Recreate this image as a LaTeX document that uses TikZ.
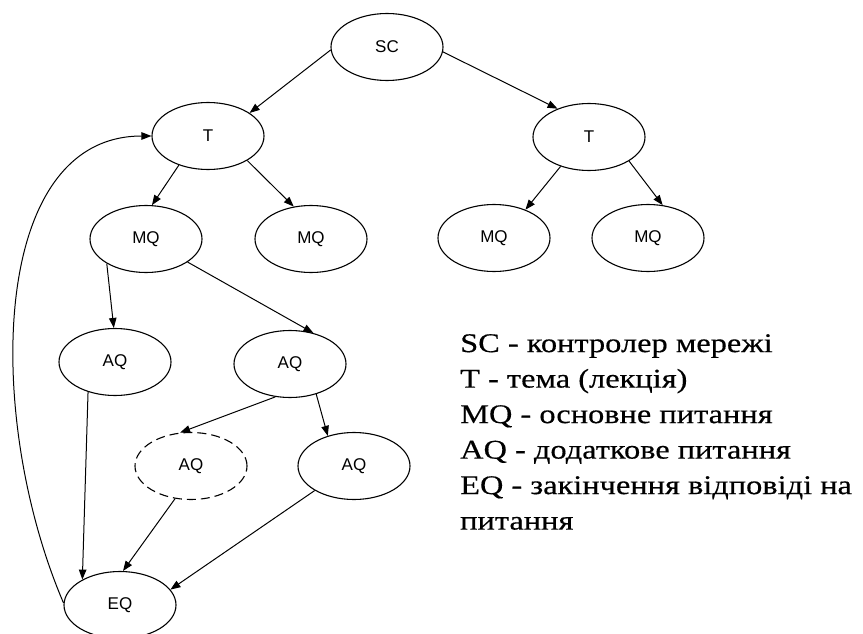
\documentclass[tikz,border=0pt]{standalone}
\usepackage{fontspec}
\setmainfont{Liberation Serif}
\setsansfont{Liberation Sans}
\newfontfamily\keyfont{Liberation Serif}[FakeStretch=1.2, FakeBold=0.4]
\usetikzlibrary{shapes.geometric,positioning}
\usetikzlibrary{arrows.meta}

\begin{document}
\begin{tikzpicture}[x=1pt, y=1pt, on grid,
  qnode/.style={draw, ellipse, line width=1.1pt, minimum width=112pt, minimum height=67pt, inner sep=0pt, font=\fontsize{17}{19}\sffamily},
  link/.style={line width=1pt, -{Triangle[length=10pt, width=7.5pt]}},
  legend/.style={align=left, inner sep=0pt, font=\fontsize{27}{35.5}\keyfont}]

\useasboundingbox (0,0) rectangle (863,-634);

\node[qnode] (sc) at (387,-47) {SC};

\node[qnode, below left=89pt and 179pt of sc] (tl) {T};
\node[qnode, below right=90pt and 202pt of sc] (tr) {T};

\node[qnode, below left=103pt and 62pt of tl] (mq1) {MQ};
\node[qnode, below right=103pt and 103pt of tl] (mq2) {MQ};
\node[qnode, below left=101pt and 95pt of tr] (mq3) {MQ};
\node[qnode, below right=101pt and 59pt of tr] (mq4) {MQ};

\node[qnode, below left=123pt and 31pt of mq1] (aq1) {AQ};
\node[qnode, below right=125pt and 144pt of mq1] (aq2) {AQ};
\node[qnode, dash pattern=on 9pt off 5pt, below left=102pt and 99pt of aq2] (aq3) {AQ};
\node[qnode, below right=102pt and 64pt of aq2] (aq4) {AQ};

\node[qnode, below right=243pt and 5pt of aq1] (eq) {EQ};

\node[legend, anchor=north west] (key) at (460,-334) {SC - контролер мережі\\T - тема (лекція)\\MQ - основне питання\\AQ - додаткове питання\\EQ - закінчення відповіді на\\питання};

\draw[link] (sc.183) -- (tl.29);
\draw[link] (sc.-5) -- (tr.138);
\draw[link] (tl.225) -- (mq1.80);
\draw[link] (tl.-32) -- (mq2.118);
\draw[link] (tr.226) -- (mq3.42);
\draw[link] (tr.-31) -- (mq4.66);
\draw[link] (mq1.212) -- (aq1.92);
\draw[link] (mq1.-29) -- (aq2.53);
\draw[link] (aq2.246) -- (aq3.108);
\draw[link] (aq2.-49) -- (aq4.131);
\draw[link] (aq1.228) -- (eq.146);
\draw[link] (aq3.244) -- (eq.85);
\draw[link] (aq4.212) -- (eq.17);
\draw[link] (eq.178) .. controls (-15,-420) and (-12,-136) .. (tl.west);

\end{tikzpicture}
\end{document}
